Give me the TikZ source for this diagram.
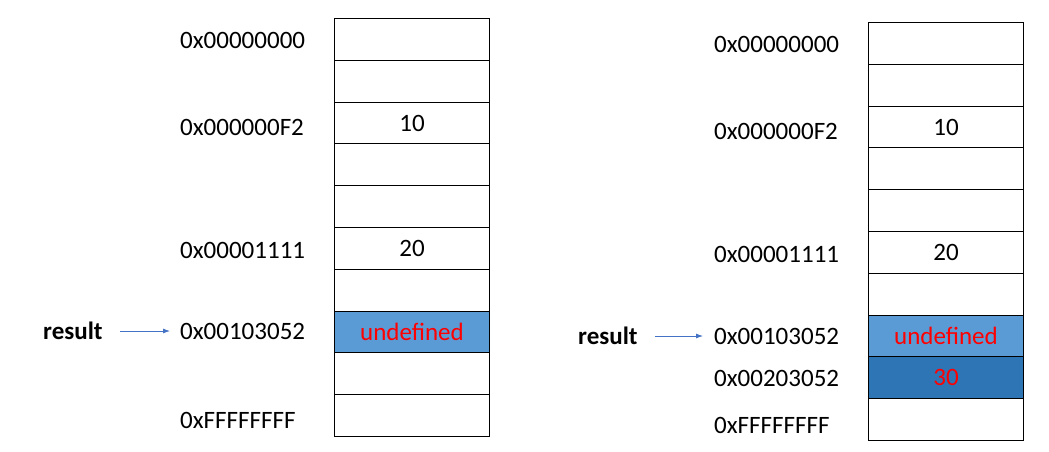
\documentclass[tikz,border=0pt]{standalone}
\usepackage{fontspec}
\setmainfont{Carlito}
\usetikzlibrary{arrows.meta}
\definecolor{cellblue}{HTML}{5B9BD5}
\definecolor{darkblue}{HTML}{2E75B6}
\definecolor{arrowblue}{HTML}{4472C4}
\definecolor{valred}{HTML}{FF0000}
\begin{document}
\begin{tikzpicture}[x=1pt,y=-1pt,
  cell/.style={draw=black,line width=1pt,minimum width=155pt,minimum height=41.8pt,inner sep=0pt,anchor=north west,font=\fontsize{25}{30}\selectfont},
  addr/.style={anchor=west,inner sep=0pt,font=\fontsize{25}{30}\selectfont},
  var/.style={anchor=west,inner sep=0pt,font=\fontsize{25}{30}\selectfont\bfseries},
  ptr/.style={draw=arrowblue,line width=0.8pt,-{Latex[length=7pt,width=5pt]}}]
\useasboundingbox (0,0) rectangle (1049,451);
% left column
\foreach \i/\t/\f/\c in {0//white/black,1//white/black,2/10/white/black,3//white/black,4//white/black,5/20/white/black,6//white/black,7/undefined/cellblue/valred,8//white/black,9//white/black}{
  \node[cell,fill=\f,text=\c] (L\i) at (334,{18+\i*41.8}) {\t};
}
\node[addr] (la0) at (180,40) {0x00000000};
\node[addr] (la2) at (180,127) {0x000000F2};
\node[addr] (la5) at (180,250) {0x00001111};
\node[addr] (la7) at (180,331) {0x00103052};
\node[addr] (la9) at (180,420) {0xFFFFFFFF};
\node[var] (lres) at (43,331) {result};
\draw[ptr] (lres.east) ++(17,0) coordinate (ls) -- (la7.west -| 170,0);
% right column
\foreach \i/\t/\f/\c in {0//white/black,1//white/black,2/10/white/black,3//white/black,4//white/black,5/20/white/black,6//white/black,7/undefined/cellblue/valred,8/30/darkblue/valred,9//white/black}{
  \node[cell,fill=\f,text=\c] (R\i) at (868,{22+\i*41.8}) {\t};
}
\node[addr] (ra0) at (714,44) {0x00000000};
\node[addr] (ra2) at (714,131) {0x000000F2};
\node[addr] (ra5) at (714,254) {0x00001111};
\node[addr] (ra7) at (714,336) {0x00103052};
\node[addr] (ra8) at (714,378) {0x00203052};
\node[addr] (ra9) at (714,425) {0xFFFFFFFF};
\node[var] (rres) at (578,336) {result};
\draw[ptr] (rres.east) ++(17,0) coordinate (rs) -- (ra7.west -| 703,0);
\end{tikzpicture}
\end{document}
